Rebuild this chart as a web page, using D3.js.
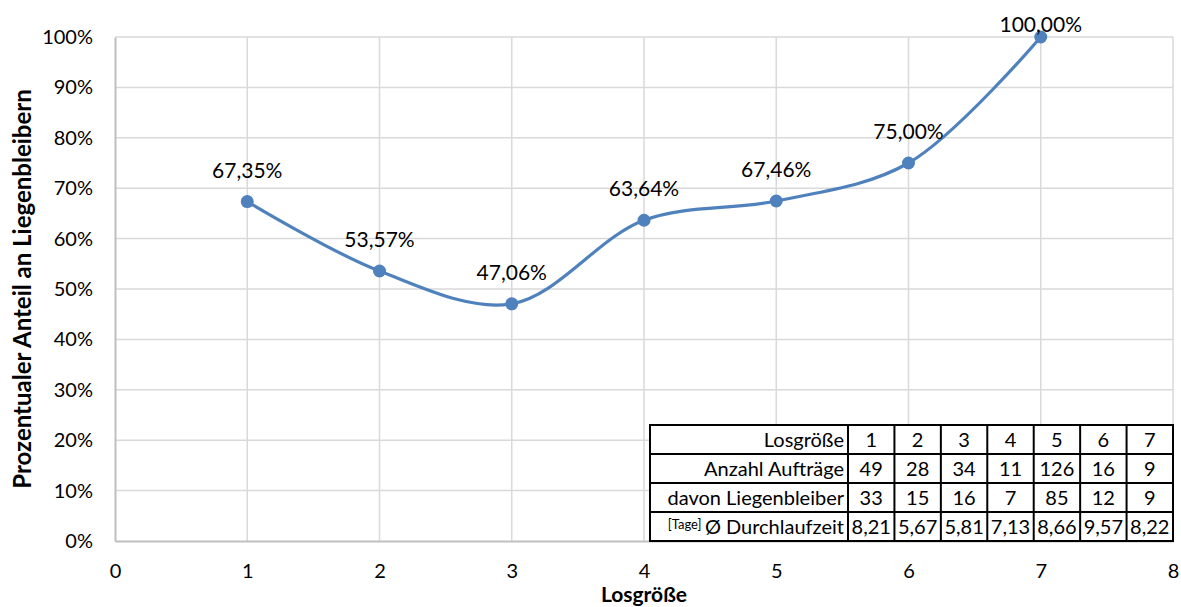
<!DOCTYPE html>
<html>
<head>
<meta charset="utf-8">
<script src="https://cdn.jsdelivr.net/npm/d3@7"></script>
<style>
  html, body { margin: 0; padding: 0; background: #fff; }
  svg { display: block; font-family: Lato, "Open Sans", sans-serif; }
</style>
</head>
<body>
<svg id="chart" width="1181" height="607"></svg>
<script>
// Losgröße vs. share of orders left lying (Liegenbleiber)
const losgroessen = [1, 2, 3, 4, 5, 6, 7];
const anteil = [67.35, 53.57, 47.06, 63.64, 67.46, 75.00, 100.00];
const labels = ["67,35%", "53,57%", "47,06%", "63,64%", "67,46%", "75,00%", "100,00%"];

const xTicks = [0, 1, 2, 3, 4, 5, 6, 7, 8];
const yTicks = [0, 10, 20, 30, 40, 50, 60, 70, 80, 90, 100];

// summary table
const tableRowHeads = ["Losgröße", "Anzahl Aufträge", "davon Liegenbleiber", "Ø Durchlaufzeit"];
const anzahlAuftraege = ["49", "28", "34", "11", "126", "16", "9"];
const davonLiegenbleiber = ["33", "15", "16", "7", "85", "12", "9"];
const durchlaufzeit = ["8,21", "5,67", "5,81", "7,13", "8,66", "9,57", "8,22"];

const svg = d3.select("#chart");
const margin = { left: 115, right: 8, top: 37, bottom: 66 };
const W = 1181, H = 607;
const plotW = W - margin.left - margin.right;
const plotH = H - margin.top - margin.bottom;

const x = d3.scaleLinear().domain([0, 8]).range([margin.left, margin.left + plotW]);
const y = d3.scaleLinear().domain([0, 100]).range([margin.top + plotH, margin.top]);

// gridlines
const grid = svg.append("g");
grid.selectAll("line.h").data(yTicks.filter(d => d > 0)).join("line")
  .attr("x1", x(0)).attr("x2", x(8))
  .attr("y1", d => y(d)).attr("y2", d => y(d))
  .attr("stroke", "#d9d9d9").attr("stroke-width", 1.5);
grid.selectAll("line.v").data(xTicks.filter(d => d > 0)).join("line")
  .attr("x1", d => x(d)).attr("x2", d => x(d))
  .attr("y1", y(0)).attr("y2", y(100))
  .attr("stroke", "#d9d9d9").attr("stroke-width", 1.5);

// axes
const yAxis = svg.append("g")
  .attr("transform", `translate(${x(0)},0)`)
  .call(d3.axisLeft(y).tickValues(yTicks).tickSize(0).tickPadding(22).tickFormat(d => d + "%"));
const xAxis = svg.append("g")
  .attr("transform", `translate(0,${y(0)})`)
  .call(d3.axisBottom(x).tickValues(xTicks).tickSize(0).tickPadding(23).tickFormat(d => d));
[yAxis, xAxis].forEach(a => {
  a.select(".domain").attr("stroke", "#bfbfbf").attr("stroke-width", 2);
  a.selectAll("text").attr("font-size", 20).attr("fill", "#000")
    .attr("font-family", "Lato, 'Open Sans', sans-serif");
});

// axis titles
svg.append("text")
  .attr("x", x(4)).attr("y", 602)
  .attr("text-anchor", "middle")
  .attr("font-size", 21).attr("font-weight", "bold")
  .text("Losgröße");
svg.append("text")
  .attr("transform", `translate(31,289) rotate(-90)`)
  .attr("text-anchor", "middle")
  .attr("font-size", 24).attr("font-weight", "bold")
  .text("Prozentualer Anteil an Liegenbleibern");

// smoothed line
const pts = losgroessen.map((d, i) => ({ x: d, y: anteil[i], label: labels[i] }));
const line = d3.line().x(d => x(d.x)).y(d => y(d.y)).curve(d3.curveCatmullRom.alpha(0.5));
svg.append("path").datum(pts)
  .attr("d", line).attr("fill", "none")
  .attr("stroke", "#4f81bd").attr("stroke-width", 3.2)
  .attr("stroke-linejoin", "round").attr("stroke-linecap", "round");

svg.selectAll("circle.pt").data(pts).join("circle")
  .attr("cx", d => x(d.x)).attr("cy", d => y(d.y)).attr("r", 6.5)
  .attr("fill", "#4f81bd");

// data labels above points, kept inside the chart
svg.selectAll("text.lbl").data(pts).join("text")
  .attr("x", d => x(d.x))
  .attr("y", d => Math.max(y(d.y) - 24, 32))
  .attr("text-anchor", "middle")
  .attr("font-size", 21).attr("fill", "#000")
  .text(d => d.label);

// summary table
const tbl = svg.append("g");
const tLeft = 650, tTop = 425, firstColW = 198, colW = (x(8) - tLeft - firstColW) / 7, rowH = 29;
const rows = [losgroessen.map(String), anzahlAuftraege, davonLiegenbleiber, durchlaufzeit];
tbl.append("rect")
  .attr("x", tLeft).attr("y", tTop)
  .attr("width", firstColW + colW * 7).attr("height", rowH * 4)
  .attr("fill", "#fff").attr("stroke", "#000").attr("stroke-width", 2);
for (let r = 1; r < 4; r++) {
  tbl.append("line")
    .attr("x1", tLeft).attr("x2", tLeft + firstColW + colW * 7)
    .attr("y1", tTop + r * rowH).attr("y2", tTop + r * rowH)
    .attr("stroke", "#000").attr("stroke-width", 2);
}
for (let c = 0; c < 7; c++) {
  tbl.append("line")
    .attr("x1", tLeft + firstColW + c * colW).attr("x2", tLeft + firstColW + c * colW)
    .attr("y1", tTop).attr("y2", tTop + rowH * 4)
    .attr("stroke", "#000").attr("stroke-width", 2);
}
rows.forEach((vals, r) => {
  const head = tbl.append("text")
    .attr("x", tLeft + firstColW - 4).attr("y", tTop + r * rowH + 22)
    .attr("text-anchor", "end").attr("font-size", 20);
  if (r === 3) {
    head.append("tspan").attr("font-size", 13).attr("dy", -5).text("[Tage] ");
    head.append("tspan").attr("dy", 5).text(tableRowHeads[r]);
  } else {
    head.text(tableRowHeads[r]);
  }
  vals.forEach((v, c) => {
    tbl.append("text")
      .attr("x", tLeft + firstColW + c * colW + colW / 2)
      .attr("y", tTop + r * rowH + 22)
      .attr("text-anchor", "middle").attr("font-size", 20)
      .text(v);
  });
});
</script>
</body>
</html>
